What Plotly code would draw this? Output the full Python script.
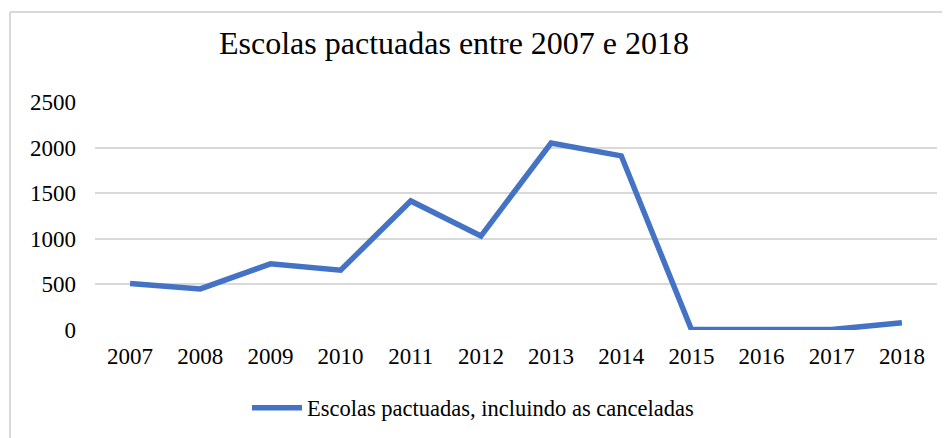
import plotly.graph_objects as go

years = ["2007", "2008", "2009", "2010", "2011", "2012", "2013", "2014", "2015", "2016", "2017", "2018"]
escolas = [510, 450, 725, 655, 1415, 1030, 2050, 1910, 5, 5, 5, 80]
y_ticks = [0, 500, 1000, 1500, 2000, 2500]

FONT = "Liberation Serif, Times New Roman, serif"

fig = go.Figure()
fig.add_trace(go.Scatter(
    x=years, y=escolas, mode="lines",
    name="Escolas pactuadas, incluindo as canceladas",
    line=dict(color="#4472C4", width=5.5),
))

# page body margin offset of the html page (8px)
OFF = 8
W, H = 950, 438
# plot area in page pixels: x 95..937, y 102..330
L, R, T, B = 95 - OFF, W - (937 - OFF), 102 - OFF, H - (330 - OFF)
pw, ph = W - L - R, H - T - B

def px(x):
    return (x - OFF - L) / pw

def py(y):
    return (H - B - (y - OFF)) / ph

fig.update_layout(
    width=W, height=H,
    margin=dict(l=L, r=R, t=T, b=B, autoexpand=False),
    paper_bgcolor="white", plot_bgcolor="white",
    font=dict(family=FONT, size=23, color="black"),
    title=dict(text="Escolas pactuadas entre 2007 e 2018", x=(454 - OFF) / W, xref="container",
               xanchor="center", y=1 - (43 - OFF) / H, yanchor="middle",
               font=dict(family=FONT, size=32, color="black")),
    showlegend=True,
    legend=dict(orientation="h", x=px(247), xanchor="left", y=py(408), yanchor="middle",
                itemwidth=50, font=dict(family=FONT, size=22.5, color="black")),
    xaxis=dict(type="category", range=[-0.5, len(years) - 0.5], showgrid=False, zeroline=False,
               showline=False, ticks="", ticklabelstandoff=10, automargin=False,
               tickfont=dict(size=23)),
    yaxis=dict(range=[0, 2500], tickvals=y_ticks, showgrid=True, gridcolor="#d9d9d9",
               gridwidth=2, zeroline=False, showline=False, ticks="", ticklen=0,
               ticklabelstandoff=18, automargin=False, tickfont=dict(size=23)),
    shapes=[
        dict(type="line", xref="paper", yref="paper", x0=px(10), x1=px(960), y0=py(12), y1=py(12),
             line=dict(color="#d9d9d9", width=2)),
        dict(type="line", xref="paper", yref="paper", x0=px(10), x1=px(10), y0=py(12), y1=py(450),
             line=dict(color="#d9d9d9", width=2)),
    ],
)

fig.write_html("out.html")
